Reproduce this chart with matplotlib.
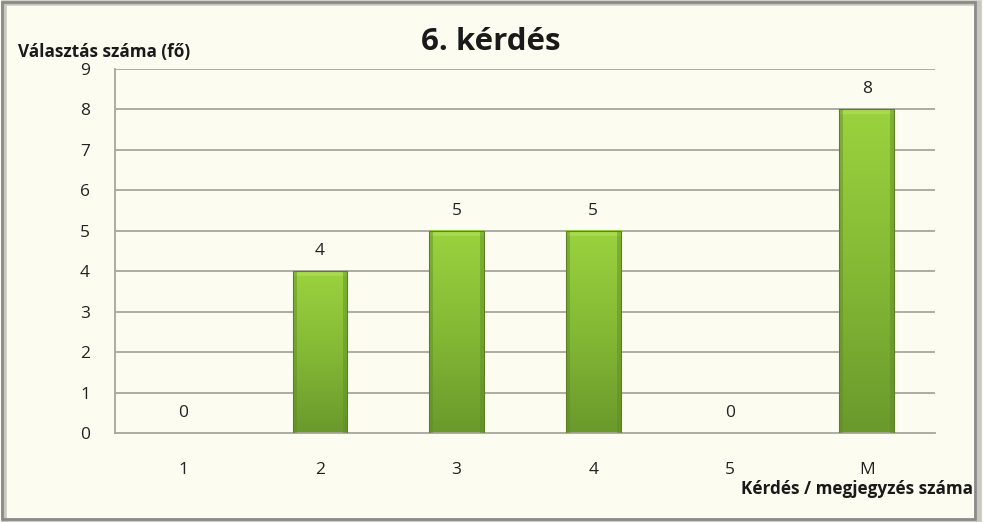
import numpy as np
import matplotlib.pyplot as plt
from matplotlib.patches import Rectangle
from matplotlib.colors import LinearSegmentedColormap

# data
categories = ["1", "2", "3", "4", "5", "M"]
counts = [0, 4, 5, 5, 0, 8]
y_ticks = list(range(0, 10))

plt.rcParams['font.family'] = ['Open Sans', 'DejaVu Sans']

BG = "#fdfcf1"
fig = plt.figure(figsize=(9.83, 5.22), dpi=100, facecolor=BG)

# outer frame + soft shadow
fig.patches.append(Rectangle((0.004, 0.0), 0.992, 0.994, transform=fig.transFigure,
                             facecolor="none", edgecolor="#c8c8c0", lw=4, zorder=0))
fig.patches.append(Rectangle((0.002, 0.006), 0.99, 0.99, transform=fig.transFigure,
                             facecolor="none", edgecolor="#8a8a8a", lw=2, zorder=1))

ax = fig.add_axes([115 / 983, (522 - 433) / 522, 820 / 983, 364 / 522])
ax.set_facecolor(BG)

x = np.arange(len(categories))
ax.set_xlim(-0.5, len(categories) - 0.5)
ax.set_ylim(0, 9)

for t in y_ticks[1:]:
    ax.axhline(t, color="#a6a69c", lw=1.3, zorder=1)

cmap = LinearSegmentedColormap.from_list("g", ["#6a992c", "#84b935", "#9bd23e"])
width = 0.4
for xi, v in zip(x, counts):
    if v > 0:
        grad = np.linspace(0, 1, 256).reshape(-1, 1)
        ax.imshow(grad, cmap=cmap, origin="lower", aspect="auto",
                  extent=(xi - width / 2, xi + width / 2, 0, v), zorder=2)
        # bevel highlights
        ax.add_patch(Rectangle((xi - width / 2, v - 0.12), width, 0.12,
                               facecolor="#b2e05a", alpha=0.6, lw=0, zorder=3))
        ax.add_patch(Rectangle((xi - width / 2, 0), 0.03, v,
                               facecolor="#5d8a25", alpha=0.45, lw=0, zorder=3))
        ax.add_patch(Rectangle((xi + width / 2 - 0.03, 0), 0.03, v,
                               facecolor="#5d8a25", alpha=0.45, lw=0, zorder=3))
        ax.add_patch(Rectangle((xi - width / 2, 0), width, v, facecolor="none",
                               edgecolor="#5a8224", lw=0.8, zorder=4))
    ax.text(xi, v + 0.3, str(v), ha="center", va="bottom", fontsize=12.5,
            color="#222222", zorder=5)

ax.set_xticks(x)
ax.set_xticklabels(categories, fontsize=12.5, color="#222222")
ax.set_yticks(y_ticks)
ax.set_yticklabels([str(t) for t in y_ticks], fontsize=12.5, color="#222222")
ax.tick_params(axis="x", length=0, pad=21)
ax.tick_params(axis="y", length=0, pad=18)

for s in ["top", "right"]:
    ax.spines[s].set_visible(False)
ax.spines["left"].set_color("#a6a69c")
ax.spines["bottom"].set_color("#a6a69c")
ax.spines["left"].set_linewidth(1.3)
ax.spines["bottom"].set_linewidth(1.3)

fig.text(491 / 983, 1 - 42 / 522, "6. kérdés", ha="center", va="center",
         fontsize=22.5, fontweight="bold", color="#1a1a1a")
fig.text(18 / 983, 1 - 52 / 522, "Választás száma (fő)", ha="left", va="center",
         fontsize=12.3, fontweight="bold", color="#1a1a1a")
fig.text(973 / 983, 1 - 489 / 522, "Kérdés / megjegyzés száma", ha="right", va="center",
         fontsize=12.3, fontweight="bold", color="#1a1a1a")

fig.savefig("out.png", dpi=100, facecolor=BG)
